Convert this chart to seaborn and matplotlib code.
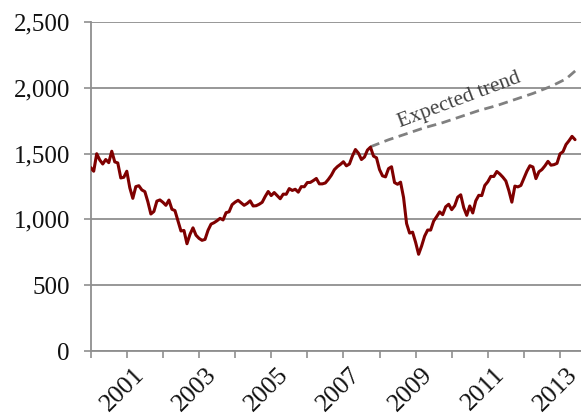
import matplotlib
matplotlib.use("Agg")
import matplotlib.pyplot as plt
import numpy as np
import pandas as pd
import seaborn as sns

# Monthly index level, Jan 2000 - Jun 2013
close_2000 = [1394, 1366, 1499, 1452, 1421, 1455, 1431, 1518, 1437, 1429, 1315, 1320]
close_2001 = [1366, 1240, 1160, 1249, 1256, 1224, 1211, 1134, 1041, 1060, 1139, 1148]
close_2002 = [1130, 1107, 1147, 1077, 1067, 990, 912, 916, 815, 886, 936, 880]
close_2003 = [856, 841, 848, 917, 964, 975, 990, 1008, 996, 1051, 1058, 1112]
close_2004 = [1131, 1145, 1126, 1107, 1121, 1141, 1102, 1104, 1115, 1130, 1174, 1212]
close_2005 = [1181, 1204, 1181, 1157, 1192, 1191, 1234, 1220, 1229, 1207, 1249, 1248]
close_2006 = [1280, 1281, 1295, 1311, 1270, 1270, 1277, 1304, 1336, 1378, 1401, 1418]
close_2007 = [1438, 1407, 1421, 1482, 1531, 1503, 1455, 1474, 1527, 1549, 1481, 1468]
close_2008 = [1379, 1331, 1323, 1386, 1400, 1280, 1267, 1283, 1166, 969, 896, 903]
close_2009 = [826, 735, 798, 873, 919, 919, 987, 1021, 1057, 1036, 1096, 1115]
close_2010 = [1074, 1104, 1169, 1187, 1089, 1031, 1102, 1049, 1141, 1183, 1181, 1258]
close_2011 = [1286, 1327, 1326, 1364, 1345, 1321, 1292, 1219, 1131, 1253, 1247, 1258]
close_2012 = [1312, 1366, 1408, 1398, 1310, 1362, 1379, 1407, 1441, 1412, 1416, 1426]
close_2013 = [1498, 1515, 1569, 1598, 1631, 1606]
start_year = 2000

# Expected trend
trend_time = [2007.75, 2008.25, 2008.75, 2009.25, 2009.75, 2010.25, 2010.75,
              2011.25, 2011.75, 2012.25, 2012.75, 2013.17, 2013.42]
trend_value = [1552, 1605, 1651, 1697, 1735, 1781, 1827,
               1865, 1911, 1957, 2011, 2068, 2128]

year_ticks = list(range(2000, 2014))
label_years = [2001, 2003, 2005, 2007, 2009, 2011, 2013]
y_ticks = [0, 500, 1000, 1500, 2000, 2500]
annotation = "Expected trend"

values = (close_2000 + close_2001 + close_2002 + close_2003 + close_2004 +
          close_2005 + close_2006 + close_2007 + close_2008 + close_2009 +
          close_2010 + close_2011 + close_2012 + close_2013)
df = pd.DataFrame({"t": start_year + np.arange(len(values)) / 12.0, "v": values})
tdf = pd.DataFrame({"t": trend_time, "v": trend_value})

sns.set_theme(style="white")
plt.rcParams["font.family"] = ["Liberation Serif", "DejaVu Serif"]

W, H = 581, 417
fig = plt.figure(figsize=(W / 100, H / 100), dpi=100)
left_px, bottom_px, top_px = 90.7, 351, 22
ax = fig.add_axes([left_px / W, (H - bottom_px) / H, 1 - left_px / W, (bottom_px - top_px) / H])

grid_c = "#8f8f8f"
sns.lineplot(data=tdf, x="t", y="v", ax=ax, color="#808080", lw=2.0,
             dashes=False, zorder=3).lines[-1].set_dashes((3.4, 2.0))
sns.lineplot(data=df, x="t", y="v", ax=ax, color="#7f0000", lw=2.2, zorder=4)

ax.set_xlim(2000, 2000 + (W - left_px) / 36.1)
ax.set_ylim(0, 2500)
ax.set_xlabel("")
ax.set_ylabel("")

ax.set_yticks(y_ticks)
ax.set_yticklabels([f"{v:,}" for v in y_ticks], fontsize=18, color="#111111")
ax.yaxis.grid(True, color=grid_c, lw=1.3)
ax.xaxis.grid(False)

ax.set_xticks(year_ticks)
ax.set_xticklabels([])
ax.set_xticks([y + 0.17 for y in label_years], minor=True)
ax.set_xticklabels([str(y) for y in label_years], minor=True, fontsize=18.5,
                   rotation=45, ha="right", va="top", rotation_mode="anchor",
                   color="#111111")

ax.tick_params(axis="both", which="major", direction="out", length=5, width=1.2,
               color=grid_c, bottom=True, left=True)
ax.tick_params(axis="y", which="major", pad=10)
ax.tick_params(axis="x", which="minor", length=0, pad=9, bottom=True)

for s in ["top", "right"]:
    ax.spines[s].set_visible(False)
for s in ["left", "bottom"]:
    ax.spines[s].set_color(grid_c)
    ax.spines[s].set_linewidth(1.3)

ax.text(2010.22, 1905, annotation, rotation=20.6, rotation_mode="anchor",
        ha="center", va="center", fontsize=15.5, color="#404040")

fig.savefig("out.png", dpi=100)
